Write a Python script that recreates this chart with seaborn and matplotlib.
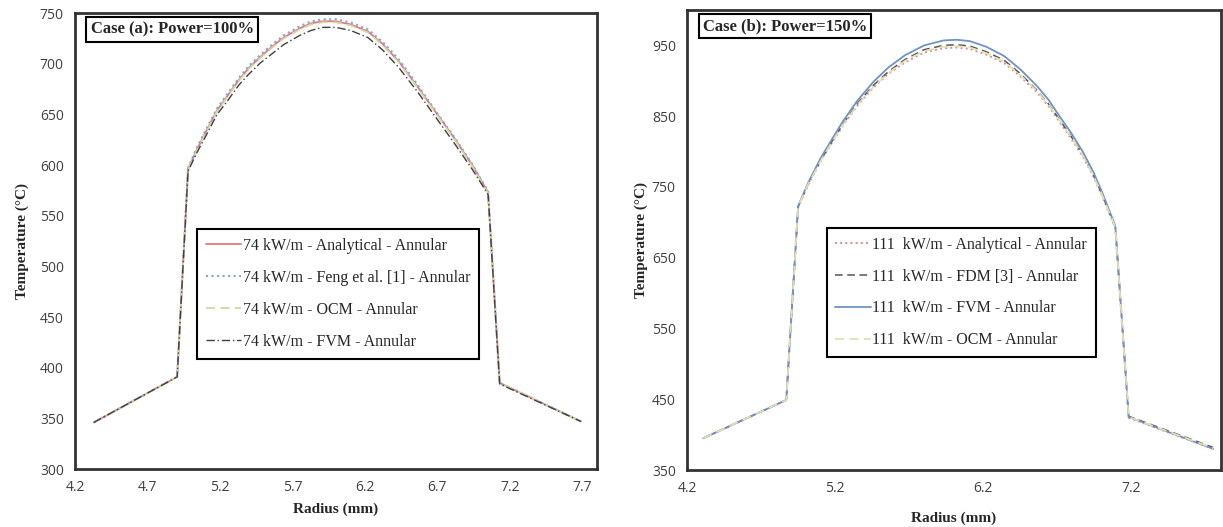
import matplotlib
matplotlib.use('Agg')
import matplotlib.pyplot as plt
import seaborn as sns
import numpy as np

# case (a): power 100%
r_a = [4.33, 4.905, 4.98, 5.04, 5.10, 5.18, 5.25, 5.33, 5.40, 5.48, 5.56, 5.64, 5.75, 5.83,
       5.91, 6.00, 6.10, 6.22, 6.32, 6.43, 6.56, 6.70, 6.82, 6.94, 7.05, 7.13, 7.69]
t_a_analytical = [346, 391, 596, 615, 632, 654, 668, 684, 696, 707, 717, 726, 735, 740,
                  742, 742, 739, 732, 720, 703, 678, 650, 626, 600, 573, 385, 347]
t_a_feng = [346, 391, 597, 617, 634, 656, 670, 686, 698, 709, 719, 728, 737, 742,
            744, 744, 741, 734, 722, 705, 680, 651, 627, 601, 574, 385, 347]
t_a_ocm = [346, 391, 595, 614, 631, 653, 667, 683, 695, 706, 716, 725, 734, 739,
           741, 741, 738, 731, 719, 702, 677, 649, 625, 599, 572, 385, 347]
t_a_fvm = [346, 391, 594, 612, 628, 650, 663, 679, 690, 701, 710, 719, 728, 733,
           736, 736, 733, 726, 714, 697, 673, 645, 621, 596, 571, 384, 347]

# case (b): power 150%
r_b = [4.31, 4.87, 4.95, 5.02, 5.10, 5.18, 5.25, 5.35, 5.46, 5.56, 5.67, 5.80, 5.93, 6.02,
       6.11, 6.22, 6.34, 6.45, 6.56, 6.64, 6.71, 6.79, 6.87, 6.94, 7.00, 7.09, 7.18, 7.75]
t_b_analytical = [395, 449, 721, 754, 786, 813, 836, 865, 891, 910, 926, 940, 946, 947,
                  945, 937, 925, 906, 884, 864, 843, 819, 793, 766, 738, 692, 424, 380]
t_b_fdm = [395, 449, 722, 755, 787, 815, 838, 868, 894, 913, 930, 944, 950, 951,
           949, 941, 929, 910, 887, 867, 846, 822, 796, 768, 740, 693, 426, 382]
t_b_fvm = [395, 449, 723, 757, 790, 818, 842, 872, 899, 919, 936, 950, 957, 958,
           956, 948, 935, 916, 893, 873, 851, 827, 800, 772, 743, 695, 425, 380]
t_b_ocm = [395, 449, 722, 755, 786, 814, 837, 866, 892, 911, 928, 942, 948, 949,
           947, 939, 927, 908, 886, 866, 845, 821, 795, 767, 739, 693, 425, 381]

sns.set_style('white')
plt.rcParams['font.family'] = ['Liberation Serif', 'DejaVu Serif']

fig = plt.figure(figsize=(12.23, 5.27), dpi=100)
ax1 = fig.add_axes([0.0613, 0.110, 0.4267, 0.865])
ax2 = fig.add_axes([0.5617, 0.108, 0.4363, 0.873])

series_a = [
    (t_a_analytical, '74 kW/m - Analytical - Annular', '#e07a7a', '-', 1.3),
    (t_a_feng, '74 kW/m - Feng et al. [1] - Annular', '#7fa6dc', ':', 1.5),
    (t_a_ocm, '74 kW/m - OCM - Annular', '#d9d6a0', (0, (5, 3)), 1.3),
    (t_a_fvm, '74 kW/m - FVM - Annular', '#404040', (0, (6, 2, 1, 2)), 1.0),
]
series_b = [
    (t_b_analytical, '111  kW/m - Analytical - Annular', '#e08a8a', ':', 1.4),
    (t_b_fdm, '111  kW/m - FDM [3] - Annular', '#555555', (0, (5, 3)), 1.1),
    (t_b_fvm, '111  kW/m - FVM - Annular', '#6f93c4', '-', 1.3),
    (t_b_ocm, '111  kW/m - OCM - Annular', '#e2dfb4', (0, (5, 3)), 1.3),
]

for ax, r, series in [(ax1, r_a, series_a), (ax2, r_b, series_b)]:
    for t, lab, c, ls, lw in series:
        sns.lineplot(x=r, y=t, ax=ax, color=c, linestyle=ls, linewidth=lw, label=lab, sort=False)

ax1.set_xlim(4.2, 7.8)
ax1.set_ylim(300, 750)
ax1.set_xticks(np.arange(4.2, 7.75, 0.5))
ax1.set_yticks(np.arange(300, 751, 50))
ax2.set_xlim(4.2, 7.8)
ax2.set_ylim(350, 1000)
ax2.set_xticks([4.2, 5.2, 6.2, 7.2])
ax2.set_yticks(np.arange(350, 951, 100))

# ax, case label, legend centre, ylabel pad, xlabel pad
cases = [(ax1, 'Case (a): Power=100%', (0.504, 0.384), 8, 5),
         (ax2, 'Case (b): Power=150%', (0.514, 0.386), 3, 11)]
for ax, title, lpos, ypad, xpad in cases:
    ax.xaxis.set_major_formatter(matplotlib.ticker.FormatStrFormatter('%.1f'))
    ax.tick_params(length=0, pad=8, labelsize=10, labelcolor='#404040')
    for lab in ax.get_xticklabels() + ax.get_yticklabels():
        lab.set_family('Open Sans')
    for s in ax.spines.values():
        s.set_color('#333333')
        s.set_linewidth(2)
    ax.set_xlabel('Radius (mm)', fontsize=11, fontweight='bold', labelpad=xpad)
    ax.set_ylabel('Temperature (\u00b0C)', fontsize=11, fontweight='bold', labelpad=ypad)
    ax.text(0.03, 0.982, title, transform=ax.transAxes, va='top', ha='left',
            fontsize=12, fontweight='bold',
            bbox=dict(boxstyle='square,pad=0.25', fc='white', ec='black', lw=1.5))
    leg = ax.legend(loc='center', bbox_to_anchor=lpos, fontsize=11.5, handlelength=2.2,
                    handletextpad=0.1, labelspacing=1.0, fancybox=False, borderpad=0.55,
                    framealpha=1)
    leg.get_frame().set_edgecolor('black')
    leg.get_frame().set_linewidth(1.5)

fig.savefig('out.png', dpi=100)
